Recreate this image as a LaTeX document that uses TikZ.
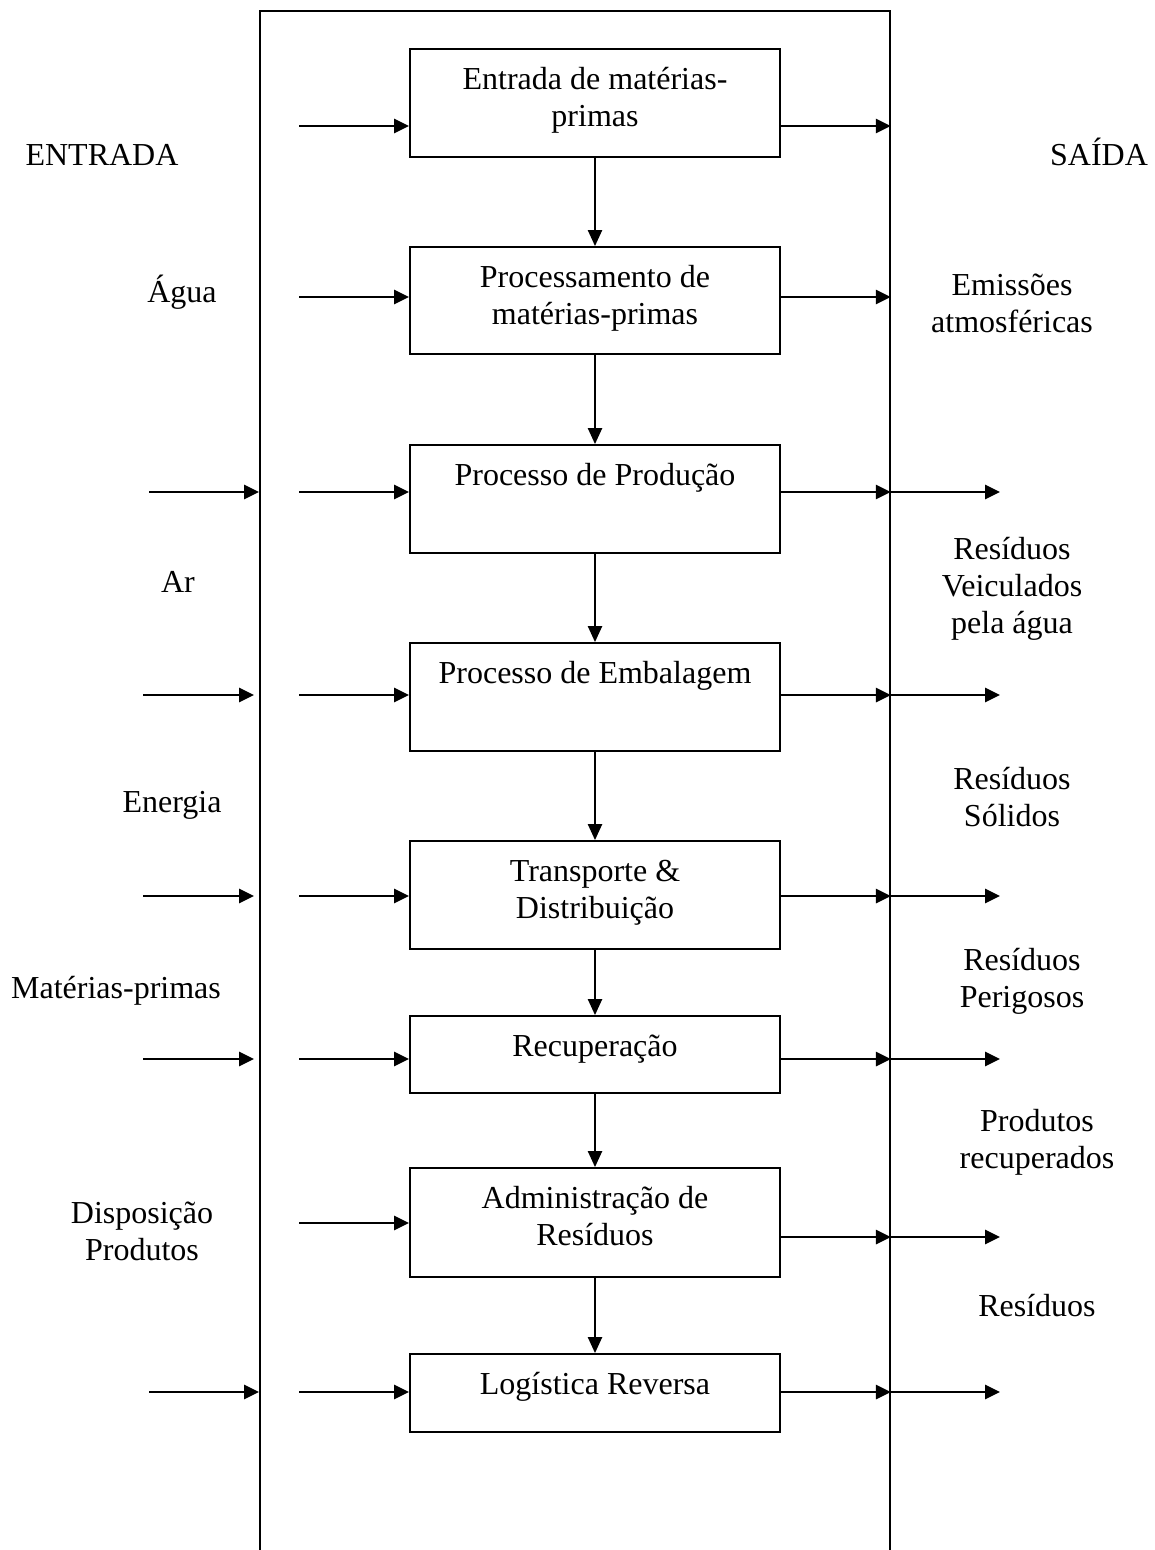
\documentclass[tikz,border=0pt]{standalone}
\usepackage{fontspec}
\setmainfont{Liberation Serif}
\usetikzlibrary{arrows.meta}
\tikzset{
  lbl/.style={font=\fontsize{32}{37}\selectfont, inner sep=0pt, anchor=base, align=center},
  procbox/.style={draw, line width=1.8pt, inner sep=0pt, font=\fontsize{32}{37}\selectfont},
  frameline/.style={draw, line width=1.8pt, inner sep=0pt},
  flow/.style={line width=2.8pt, -{Triangle[length=15pt,width=14pt]}},
  downflow/.style={line width=2.2pt, -{Triangle[length=16pt,width=14pt]}},
}
\newcommand\boxtxt[2]{\parbox[c][#1][t]{370pt}{\centering\rule{0pt}{40pt}#2}}
\begin{document}
\begin{tikzpicture}[x=1pt,y=-1pt]
\useasboundingbox (0,0) rectangle (1155,1550);
% outer frame (open below the picture)
\node[frameline, minimum width=630pt, minimum height=1600pt, anchor=north] (frame) at (575,10) {};

% process boxes
\node[procbox] (b1) at (595,103)   {\boxtxt{108pt}{Entrada de matérias-\\primas}};
\node[procbox] (b2) at (595,300.5) {\boxtxt{107pt}{Processamento de\\matérias-primas}};
\node[procbox] (b3) at (595,499)   {\boxtxt{108pt}{Processo de Produção}};
\node[procbox] (b4) at (595,697)   {\boxtxt{108pt}{Processo de Embalagem}};
\node[procbox] (b5) at (595,895)   {\boxtxt{108pt}{Transporte \&\\Distribuição}};
\node[procbox] (b6) at (595,1054.5){\boxtxt{77pt}{Recuperação}};
\node[procbox] (b7) at (595,1222.5){\boxtxt{109pt}{Administração de\\Resíduos}};
\node[procbox] (b8) at (595,1393)  {\boxtxt{78pt}{Logística Reversa}};

% vertical flow
\draw[downflow] (b1) -- (b2);
\draw[downflow] (b2) -- (b3);
\draw[downflow] (b3) -- (b4);
\draw[downflow] (b4) -- (b5);
\draw[downflow] (b5) -- (b6);
\draw[downflow] (b6) -- (b7);
\draw[downflow] (b7) -- (b8);

% inner input arrows (start points)
\coordinate (i1) at (299,126);
\coordinate (i2) at (299,297);
\coordinate (i3) at (299,492);
\coordinate (i4) at (299,695);
\coordinate (i5) at (299,896);
\coordinate (i6) at (299,1059);
\coordinate (i7) at (299,1223);
\coordinate (i8) at (299,1392);
\foreach \k in {1,...,8} \draw[flow] (i\k) -- (i\k -| b\k.west);

% inner output arrows (y levels)
\coordinate (o1) at (1000,126);
\coordinate (o2) at (1000,297);
\coordinate (o3) at (1000,492);
\coordinate (o4) at (1000,695);
\coordinate (o5) at (1000,896);
\coordinate (o6) at (1000,1059);
\coordinate (o7) at (1000,1237);
\coordinate (o8) at (1000,1392);
\foreach \k in {1,...,8} \draw[flow] (o\k -| b\k.east) -- (o\k -| frame.east);
% outer output arrows
\foreach \k in {3,...,8} \draw[flow] (o\k -| frame.east) -- (o\k);

% outer input arrows
\coordinate (s3) at (149,492);
\coordinate (s4) at (143,695);  \coordinate (t4) at (254,695);
\coordinate (s5) at (143,896);  \coordinate (t5) at (254,896);
\coordinate (s6) at (143,1059); \coordinate (t6) at (254,1059);
\coordinate (s8) at (149,1392);
\draw[flow] (s3) -- (s3 -| frame.west);
\draw[flow] (s4) -- (t4);
\draw[flow] (s5) -- (t5);
\draw[flow] (s6) -- (t6);
\draw[flow] (s8) -- (s8 -| frame.west);

% left labels (base = baseline of the last line)
\node[lbl] (entrada) at (102,165) {ENTRADA};
\node[lbl] (agua) at (182,302) {Água};
\node[lbl] (ar) at (178,592) {Ar};
\node[lbl] (energia) at (172,812) {Energia};
\node[lbl] (mp) at (116,998) {Matérias-primas};
\node[lbl] (disp) at (142,1260) {Disposição\\Produtos};

% right labels
\node[lbl] (saida) at (1099,165) {SAÍDA};
\node[lbl] (emis) at (1012,332) {Emissões\\atmosféricas};
\node[lbl] (veic) at (1012,633) {Resíduos\\Veiculados\\pela água};
\node[lbl] (sol) at (1012,826) {Resíduos\\Sólidos};
\node[lbl] (perig) at (1022,1007) {Resíduos\\Perigosos};
\node[lbl] (recup) at (1037,1168) {Produtos\\recuperados};
\node[lbl] (resid) at (1037,1316) {Resíduos};
\end{tikzpicture}
\end{document}
